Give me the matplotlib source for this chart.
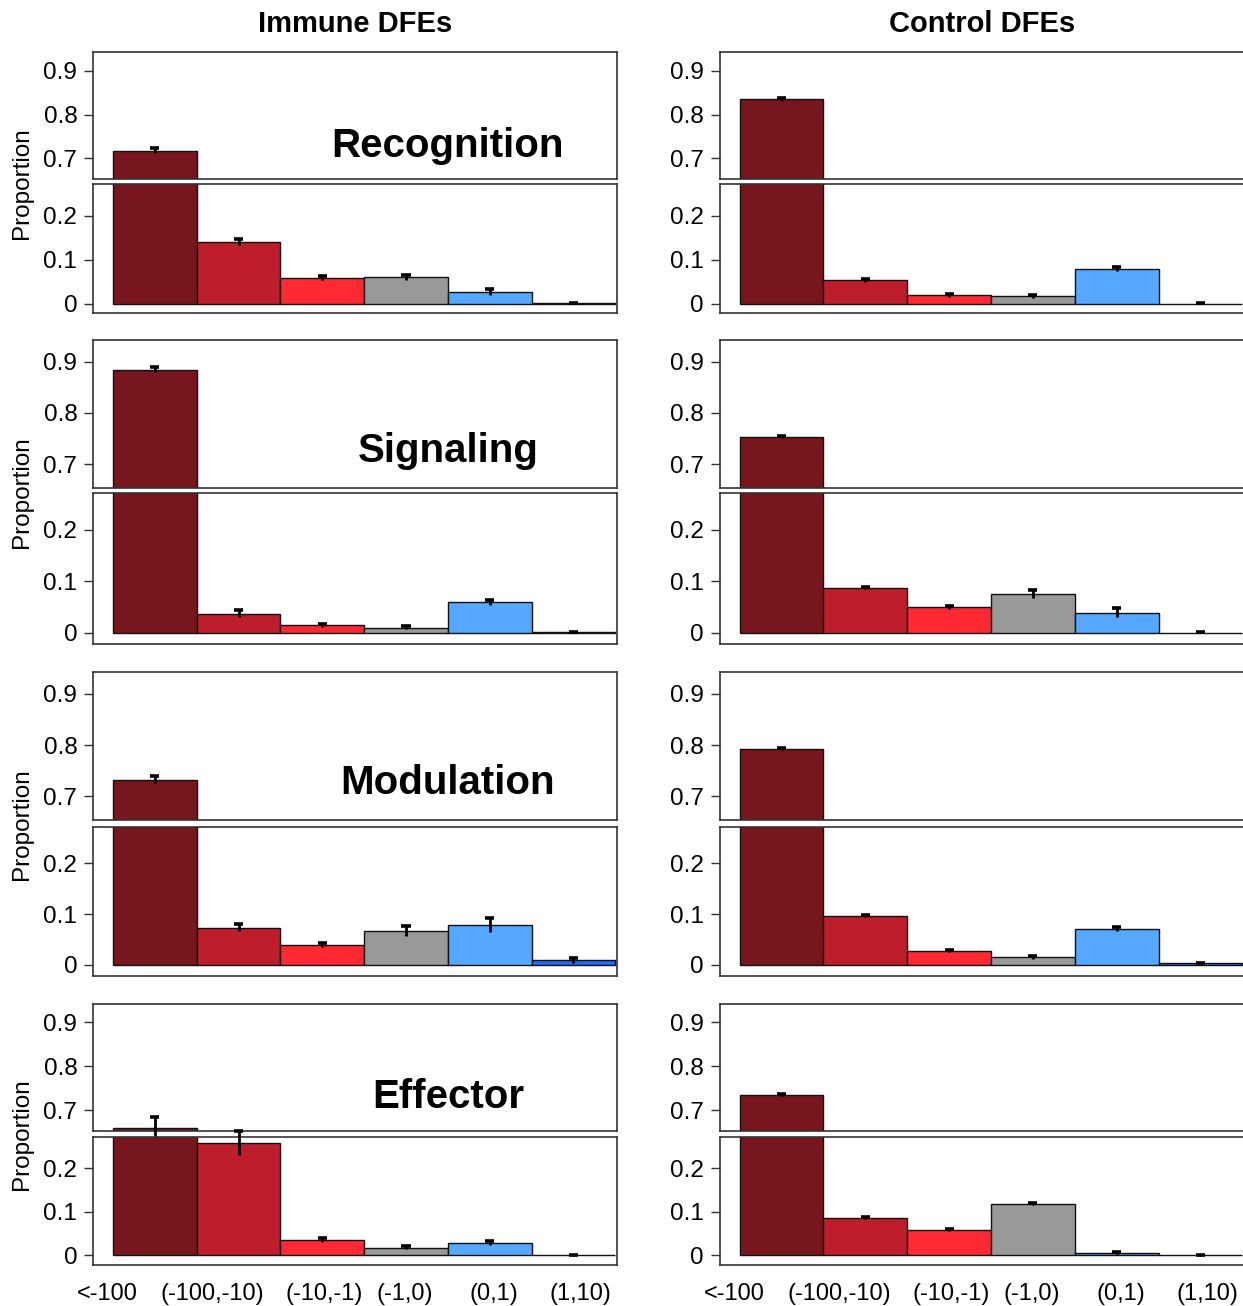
import matplotlib.pyplot as plt

plt.rcParams['font.family'] = ['Liberation Sans', 'DejaVu Sans']

# selection coefficient bins (x axis)
bins = ['<-100', '(-100,-10)', '(-10,-1)', '(-1,0)', '(0,1)', '(1,10)']
bar_colors = ['#78161D', '#BE1E2B', '#FF2934', '#999999', '#55A7FF', '#1F6BFF']
categories = ['Recognition', 'Signaling', 'Modulation', 'Effector']
columns = ['Immune DFEs', 'Control DFEs']

# proportions
immune_recognition = [0.718, 0.141, 0.059, 0.060, 0.027, 0.001]
immune_signaling = [0.884, 0.037, 0.014, 0.010, 0.059, 0.001]
immune_modulation = [0.732, 0.073, 0.039, 0.066, 0.078, 0.009]
immune_effector = [0.660, 0.258, 0.036, 0.018, 0.029, 0.000]

control_recognition = [0.835, 0.053, 0.019, 0.017, 0.079, 0.000]
control_signaling = [0.753, 0.086, 0.049, 0.075, 0.039, 0.000]
control_modulation = [0.792, 0.097, 0.028, 0.015, 0.070, 0.003]
control_effector = [0.735, 0.086, 0.058, 0.118, 0.005, 0.000]

# error bar half-widths
immune_recognition_err = [0.006, 0.007, 0.004, 0.006, 0.007, 0.001]
immune_signaling_err = [0.005, 0.007, 0.003, 0.003, 0.005, 0.001]
immune_modulation_err = [0.007, 0.007, 0.004, 0.010, 0.014, 0.005]
immune_effector_err = [0.025, 0.028, 0.005, 0.004, 0.005, 0.001]

control_recognition_err = [0.003, 0.003, 0.003, 0.003, 0.004, 0.001]
control_signaling_err = [0.002, 0.002, 0.003, 0.008, 0.008, 0.001]
control_modulation_err = [0.002, 0.002, 0.002, 0.003, 0.004, 0.001]
control_effector_err = [0.002, 0.002, 0.002, 0.003, 0.003, 0.001]

props = [[immune_recognition, immune_signaling, immune_modulation, immune_effector],
         [control_recognition, control_signaling, control_modulation, control_effector]]
errs = [[immune_recognition_err, immune_signaling_err, immune_modulation_err, immune_effector_err],
        [control_recognition_err, control_signaling_err, control_modulation_err, control_effector_err]]

# layout in pixels
W, H = 1243, 1306
rows = [(52.3, 179, 184.3, 313.3),
        (340, 488.3, 492.7, 644),
        (672.3, 820.3, 826.7, 976),
        (1004, 1130.7, 1136.7, 1265)]
cols = [(93.3, 617), (720, 1244)]
label_x = [-0.07, 1.19, 2.52, 3.49, 4.55, 5.58]

top_lim = (0.653, 0.942)
bot_lim = (-0.022, 0.272)
frame = '#333333'


def px_rect(x0, x1, y0, y1):
    return [x0 / W, 1 - y1 / H, (x1 - x0) / W, (y1 - y0) / H]


fig = plt.figure(figsize=(W / 100, H / 100), dpi=100)

for c, (x0, x1) in enumerate(cols):
    fig.text((x0 + x1) / 2 / W, 1 - 32.3 / H, columns[c], ha='center', va='baseline',
             fontsize=21, fontweight='bold')
    for r, (t0, t1, b0, b1) in enumerate(rows):
        vals = props[c][r]
        ers = errs[c][r]
        ax_top = fig.add_axes(px_rect(x0, x1, t0, t1))
        ax_bot = fig.add_axes(px_rect(x0, x1, b0, b1))
        for ax, lim, ticks, labels in [(ax_top, top_lim, [0.7, 0.8, 0.9], ['0.7', '0.8', '0.9']),
                                       (ax_bot, bot_lim, [0, 0.1, 0.2], ['0', '0.1', '0.2'])]:
            ax.bar(range(len(bins)), vals, width=1, align='edge', color=bar_colors,
                   edgecolor='#111111', linewidth=1.0)
            ax.set_xlim(-0.235, 6.02)
            ax.set_ylim(lim)
            ax.set_yticks(ticks)
            ax.set_yticklabels(labels)
            ax.tick_params(axis='y', direction='out', length=6.5, width=1, color=frame,
                           labelsize=17.5, pad=5)
            ax.set_xticks([])
            for s in ax.spines.values():
                s.set_color(frame)
                s.set_linewidth(1.2)

        for i, (v, e) in enumerate(zip(vals, ers)):
            ax = ax_top if v > 0.5 else ax_bot
            xc = i + 0.5
            ax.vlines(xc, v - e, v + e, color='black', lw=2.0, clip_on=False, zorder=4)
            ax.hlines(v + e, xc - 0.055, xc + 0.055, color='black', lw=2.6,
                      clip_on=False, zorder=4)

        if c == 0:
            ax_top.text(4.0, 0.704, categories[r], ha='center', va='baseline',
                        fontsize=29, fontweight='bold')
            fig.text(22 / W, 1 - (t0 + b1) / 2 / H, 'Proportion', rotation=90,
                     ha='center', va='center', fontsize=17.5)

        if r == len(rows) - 1:
            ax_bot.set_xticks(label_x)
            ax_bot.set_xticklabels(bins)
            ax_bot.tick_params(axis='x', length=0, labelsize=17, pad=13)

fig.savefig('out.png', dpi=100)
